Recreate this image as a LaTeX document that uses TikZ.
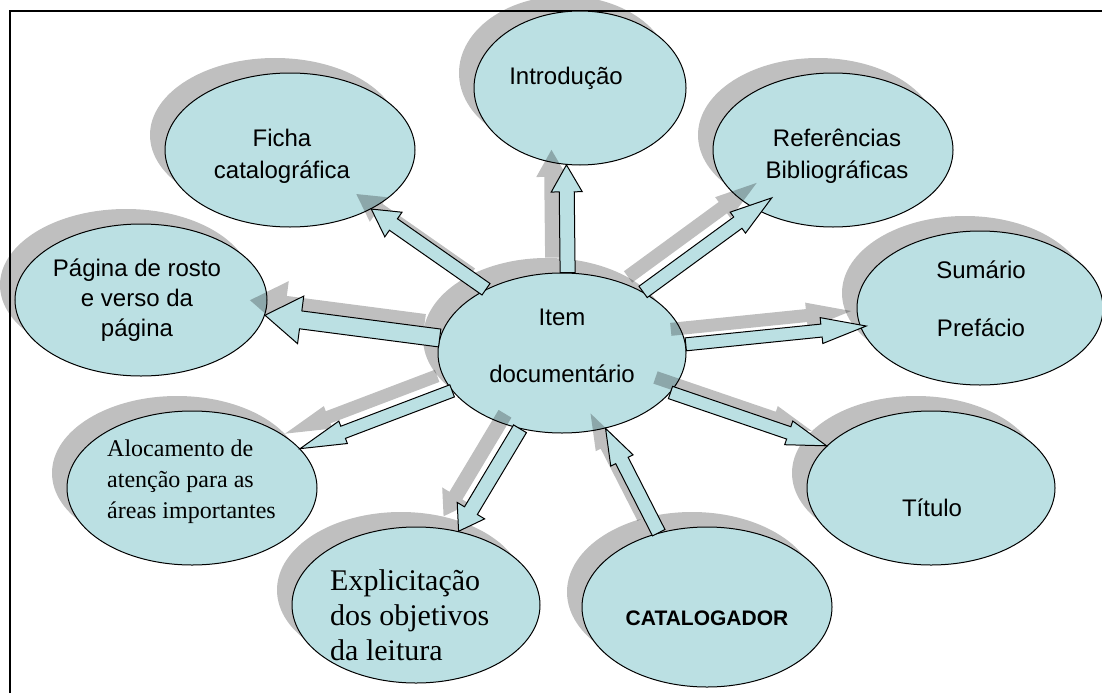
\documentclass[tikz,border=0pt]{standalone}
\usepackage{fontspec}
\setmainfont{Liberation Serif}
\newfontfamily\fontesans{Liberation Sans}
\usetikzlibrary{calc,shapes.geometric,shadows}
\definecolor{azulclaro}{RGB}{187,224,227}

\tikzset{
  bolha/.style={ellipse, draw, line width=1pt, fill=azulclaro, inner sep=0pt,
    drop shadow={shadow xshift=-15pt, shadow yshift=15pt, fill=black, opacity=.25}},
  rotulo/.style={font={\fontesans\fontsize{24}{#1}\selectfont}, align=center, inner sep=0pt},
  rotulo/.default=30,
  serifa/.style 2 args={font={\fontsize{#1}{#2}\selectfont}, align=left, inner sep=0pt, anchor=west},
  setaface/.style={draw, fill=azulclaro, line width=1pt, line join=miter},
  setasombra/.style={fill=black, fill opacity=.25}
}

% seta em bloco: de, para, meia haste, meia cabeca, comprimento da cabeca, estilo
\newcommand\seta[6]{%
  \coordinate (sb) at ($(#2)!#5!(#1)$);
  \path[#6] ($(#1)!#3!90:(#2)$) -- ($(sb)!#3!90:(#2)$) -- ($(sb)!#4!90:(#2)$) -- (#2)
    -- ($(sb)!#4!-90:(#2)$) -- ($(sb)!#3!-90:(#2)$) -- ($(#1)!#3!-90:(#2)$) -- cycle;}

\begin{document}
\begin{tikzpicture}[x=1pt, y=-1pt]
\useasboundingbox (0,0) rectangle (1102,693);

% moldura
\draw[line width=1.5pt] (10,693) -- (10,11) -- (1102,11);

% elipses
\foreach \nome/\cx/\cy/\rx/\ry in {ficha/290/150/125/77, intro/580/88/106/77,
    ref/833/150/120/77, pagina/141/300/126/76, sumario/980/308/123/77,
    aloc/192/488/125/77, expl/416/605/124/78, cat/707/607/125/80,
    titulo/931/488/124/77, item/562/353/124/80}
  \node[bolha, minimum width=2*\rx, minimum height=2*\ry] (\nome) at (\cx,\cy) {};

% pontas que entram nas elipses
\coordinate (ponta-ref) at ($(ref.center)!.8!(ref.218)$);
\coordinate (ponta-sum) at ($(sumario.center)!.95!(sumario.189)$);

% setas: sombra e depois face
\begin{scope}[transform canvas={shift={(-15pt,15pt)}}]
\foreach \de/\para/\s/\h/\l in {item.86/intro.260/7.5pt/15.5pt/27pt,
    item.140/ficha.-36/7pt/15pt/27pt, item.173/pagina.-7/9pt/24pt/36pt,
    item.37/ponta-ref/7pt/13pt/42pt, item.4/ponta-sum/6.5pt/13pt/45pt,
    item.-20/titulo.158/6.5pt/12.5pt/40pt, cat.123/item.-60/7pt/12.5pt/36pt,
    item.241/expl.60/7.5pt/16pt/24pt, item.199/aloc.20/6.5pt/12pt/46pt}
  \seta{\de}{\para}{\s}{\h}{\l}{setasombra};
\end{scope}
\foreach \de/\para/\s/\h/\l in {item.86/intro.260/7.5pt/15.5pt/27pt,
    item.140/ficha.-36/7pt/15pt/27pt, item.173/pagina.-7/9pt/24pt/36pt,
    item.37/ponta-ref/7pt/13pt/42pt, item.4/ponta-sum/6.5pt/13pt/45pt,
    item.-20/titulo.158/6.5pt/12.5pt/40pt, cat.123/item.-60/7pt/12.5pt/36pt,
    item.241/expl.60/7.5pt/16pt/24pt, item.199/aloc.20/6.5pt/12pt/46pt}
  \seta{\de}{\para}{\s}{\h}{\l}{setaface};

% textos
\node[rotulo] (t-intro) at (566,78) {Introdução};
\node[rotulo=32] (t-ficha) at (282,156) {Ficha\\catalográfica};
\node[rotulo=32] (t-ref) at (837,156) {Referências\\Bibliográficas};
\node[rotulo=30] (t-pagina) at (137,300) {Página de rosto\\e verso da\\página};
\node[rotulo=57] (t-item) at (562,346) {Item\\documentário};
\node[rotulo=58] (t-sumario) at (981,299) {Sumário\\Prefácio};
\node[rotulo] (t-titulo) at (932,508) {Título};
\node[inner sep=0pt, font={\fontesans\bfseries\fontsize{21}{25}\selectfont}] (t-cat) at (707,618) {CATALOGADOR};
\node[serifa={24}{31}] (t-aloc) at (107,482) {Alocamento de\\atenção para as\\áreas importantes};
\node[serifa={30}{35}] (t-expl) at (330,615) {Explicitação\\dos objetivos\\da leitura};
\end{tikzpicture}
\end{document}
